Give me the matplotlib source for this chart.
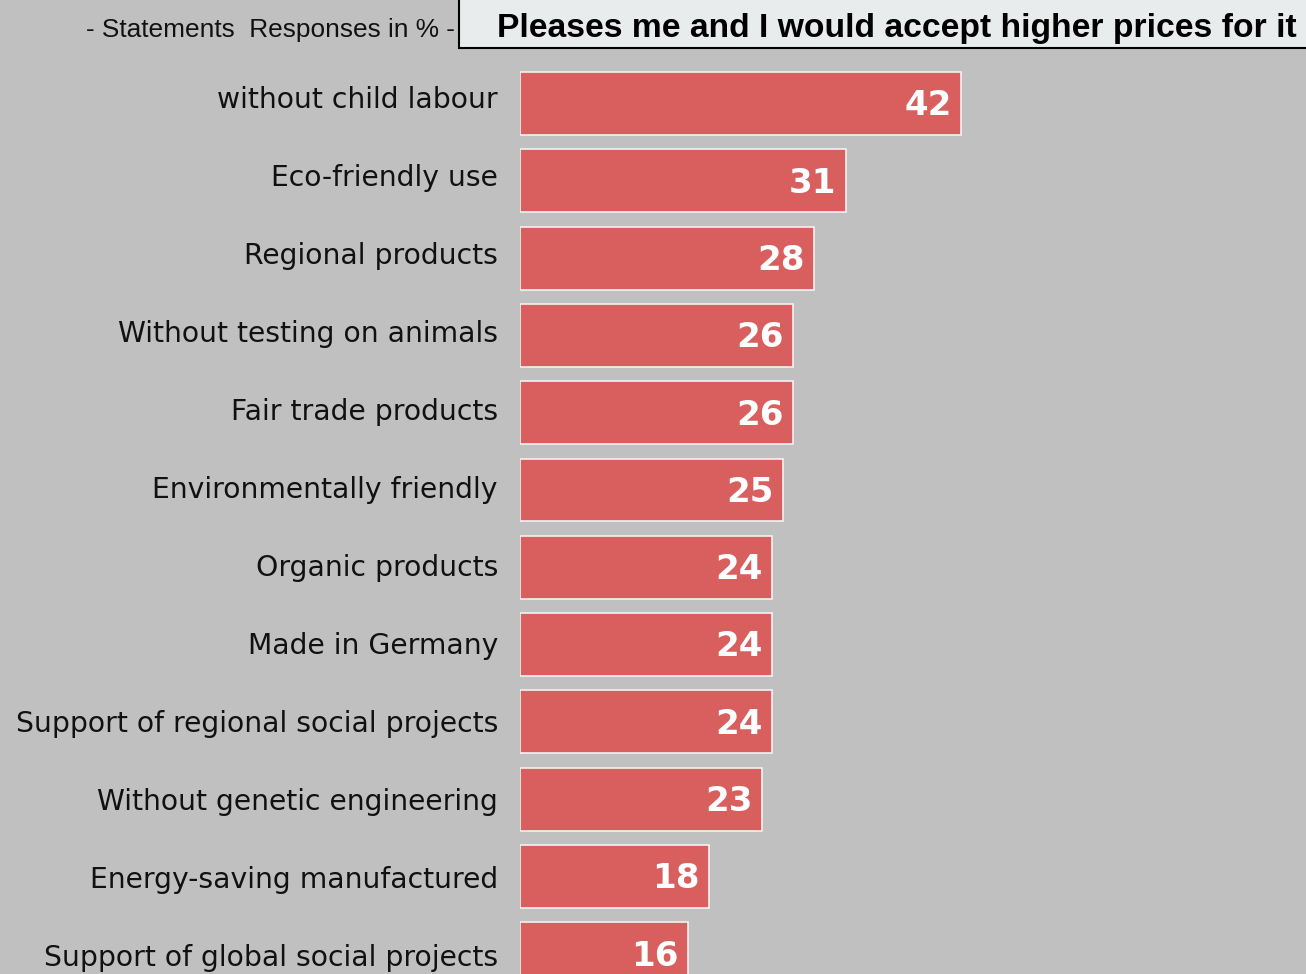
import matplotlib.pyplot as plt
from matplotlib.patches import Rectangle

statements = [
    "without child labour",
    "Eco-friendly use",
    "Regional products",
    "Without testing on animals",
    "Fair trade products",
    "Environmentally friendly",
    "Organic products",
    "Made in Germany",
    "Support of regional social projects",
    "Without genetic engineering",
    "Energy-saving manufactured",
    "Support of global social projects",
]
shares = [42, 31, 28, 26, 26, 25, 24, 24, 24, 23, 18, 16]

header_left = "- Statements  Responses in % -"
header_title = "Pleases me and I would accept higher prices for it"

bg = "#c0c0c0"
bar_color = "#d95f5f"

fig = plt.figure(figsize=(13.06, 9.74), dpi=100, facecolor=bg)
ax = fig.add_axes([520 / 1306, 0, 1 - 520 / 1306, 1])
ax.set_facecolor(bg)

pos = list(range(len(shares)))
ax.barh(pos, shares, height=0.815, color=bar_color,
        edgecolor="#f2f2f2", linewidth=1.2)
ax.set_xlim(0, 786 / 10.5)
ax.set_ylim((974 - 103.5) / 77.3, -103.5 / 77.3)
ax.axis("off")

for y, v in zip(pos, shares):
    ax.text(v - 0.85, y + 0.03, str(v), ha="right", va="center",
            color="white", fontsize=24.5, fontweight="bold",
            family="DejaVu Sans")

# category labels sit to the left of the bars
for y, name in zip(pos, statements):
    ax.text(-2.1, y - 0.04 + 0.008 * y, name, ha="right", va="center",
            fontsize=20.3, family="DejaVu Sans", color="#111111")

# header strip
fig.text(455 / 1306, 1 - 29.5 / 974, header_left, ha="right", va="center",
         fontsize=18.9, family="Liberation Sans", color="#111111")
fig.patches.append(Rectangle((459 / 1306, 1 - 48 / 974), 1, 60 / 974,
                             transform=fig.transFigure, facecolor="#e9ecec",
                             edgecolor="black", linewidth=1.5))
fig.text(1297 / 1306, 1 - 29 / 974, header_title, ha="right", va="center",
         fontsize=24.2, fontweight="bold", family="Liberation Sans",
         color="black")

fig.savefig("out.png", dpi=100, facecolor=bg)
